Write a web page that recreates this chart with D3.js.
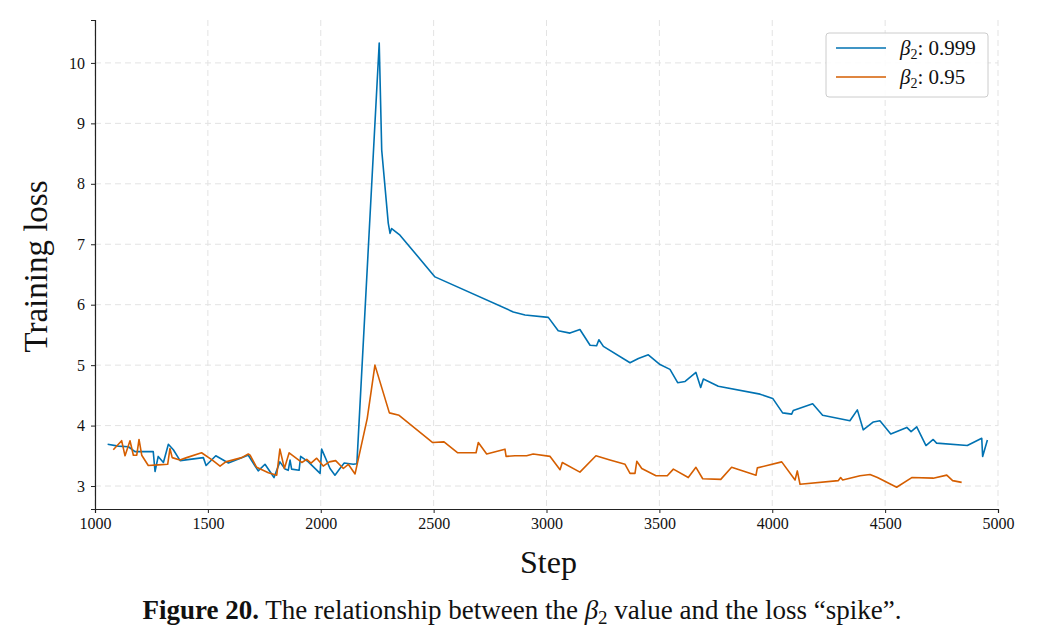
<!DOCTYPE html>
<html>
<head>
<meta charset="utf-8">
<script src="https://cdn.jsdelivr.net/npm/d3@7"></script>
<style>
  body { margin: 0; background: #fff; }
  text { font-family: "Liberation Serif", "DejaVu Serif", serif; }
</style>
</head>
<body>
<div id="chart"></div>
<script>
// beta2 = 0.999
const stepsA = [1056, 1103, 1148, 1177, 1199, 1258, 1266, 1280, 1303, 1325, 1347, 1377, 1480, 1492, 1535, 1591, 1672, 1679, 1723, 1753, 1793, 1819, 1842, 1856, 1864, 1871, 1904, 1911, 1945, 1997, 2004, 2041, 2063, 2085, 2104, 2144, 2160, 2259, 2270, 2299, 2307, 2314, 2351, 2506, 2853, 2905, 3008, 3052, 3104, 3148, 3193, 3222, 3232, 3252, 3370, 3407, 3451, 3503, 3547, 3581, 3614, 3662, 3683, 3695, 3761, 3946, 4002, 4046, 4086, 4093, 4179, 4223, 4344, 4377, 4403, 4448, 4477, 4525, 4596, 4615, 4640, 4681, 4713, 4728, 4864, 4928, 4932, 4953];
const lossA = [3.69, 3.66, 3.65, 3.57, 3.57, 3.57, 3.24, 3.49, 3.39, 3.69, 3.60, 3.42, 3.47, 3.34, 3.50, 3.38, 3.50, 3.51, 3.25, 3.36, 3.14, 3.40, 3.28, 3.26, 3.43, 3.28, 3.26, 3.49, 3.40, 3.21, 3.61, 3.29, 3.18, 3.29, 3.38, 3.36, 3.37, 10.33, 8.56, 7.35, 7.18, 7.26, 7.15, 6.46, 5.88, 5.83, 5.79, 5.57, 5.53, 5.59, 5.33, 5.32, 5.42, 5.31, 5.04, 5.11, 5.17, 5.01, 4.93, 4.71, 4.73, 4.88, 4.63, 4.77, 4.65, 4.52, 4.45, 4.21, 4.19, 4.25, 4.36, 4.17, 4.08, 4.26, 3.93, 4.06, 4.08, 3.86, 3.97, 3.90, 3.98, 3.67, 3.77, 3.71, 3.67, 3.79, 3.49, 3.76];

// beta2 = 0.95
const stepsB = [1081, 1118, 1133, 1155, 1170, 1185, 1195, 1207, 1236, 1280, 1322, 1332, 1342, 1376, 1406, 1472, 1520, 1554, 1579, 1650, 1679, 1687, 1716, 1768, 1805, 1819, 1839, 1860, 1916, 1938, 1957, 1982, 2011, 2038, 2066, 2100, 2122, 2152, 2206, 2240, 2304, 2347, 2496, 2546, 2607, 2688, 2698, 2735, 2816, 2821, 2860, 2912, 2941, 3016, 3060, 3070, 3148, 3219, 3281, 3348, 3370, 3392, 3400, 3422, 3485, 3535, 3562, 3628, 3662, 3692, 3772, 3820, 3928, 3934, 4042, 4101, 4111, 4123, 4293, 4303, 4312, 4389, 4433, 4466, 4551, 4618, 4713, 4773, 4799, 4839];
const lossB = [3.60, 3.75, 3.50, 3.75, 3.51, 3.51, 3.77, 3.51, 3.34, 3.35, 3.36, 3.62, 3.47, 3.43, 3.47, 3.55, 3.43, 3.33, 3.40, 3.47, 3.53, 3.51, 3.31, 3.22, 3.18, 3.61, 3.29, 3.55, 3.39, 3.44, 3.38, 3.46, 3.33, 3.40, 3.42, 3.29, 3.36, 3.20, 4.12, 5.00, 4.21, 4.17, 3.72, 3.73, 3.55, 3.55, 3.72, 3.53, 3.61, 3.49, 3.50, 3.50, 3.53, 3.49, 3.27, 3.39, 3.23, 3.50, 3.43, 3.36, 3.21, 3.21, 3.41, 3.29, 3.17, 3.17, 3.28, 3.14, 3.31, 3.12, 3.11, 3.31, 3.18, 3.30, 3.40, 3.10, 3.25, 3.03, 3.09, 3.14, 3.10, 3.17, 3.19, 3.14, 2.98, 3.14, 3.13, 3.18, 3.09, 3.06];

const xTicks = [1000, 1500, 2000, 2500, 3000, 3500, 4000, 4500, 5000];
const yTicks = [3, 4, 5, 6, 7, 8, 9, 10];
const seriesNames = ['0.999', '0.95'];

const W = 1037, H = 644;
const margin = { top: 20, right: 39, bottom: 135, left: 95 };
const width = W - margin.left - margin.right;
const height = H - margin.top - margin.bottom;

const colors = ['#0072b2', '#d55e00'];

const svg = d3.select('#chart').append('svg')
  .attr('width', W).attr('height', H);

const x = d3.scaleLinear().domain([1000, 5000]).range([0, width]);
const y = d3.scaleLinear().domain([2.62, 10.71]).range([height, 0]);

const g = svg.append('g').attr('transform', `translate(${margin.left},${margin.top})`);

// grid
g.append('g').selectAll('line').data(xTicks).enter().append('line')
  .attr('x1', d => x(d)).attr('x2', d => x(d)).attr('y1', 0).attr('y2', height)
  .attr('stroke', '#e3e3e3').attr('stroke-dasharray', '6,4').attr('stroke-width', 1);
g.append('g').selectAll('line').data(yTicks).enter().append('line')
  .attr('x1', 0).attr('x2', width).attr('y1', d => y(d)).attr('y2', d => y(d))
  .attr('stroke', '#e3e3e3').attr('stroke-dasharray', '6,4').attr('stroke-width', 1);

// axes
const xAxis = g.append('g').attr('transform', `translate(0,${height})`)
  .call(d3.axisBottom(x).tickValues(xTicks).tickSize(4).tickPadding(5).tickFormat(d3.format('d')));
const yAxis = g.append('g')
  .call(d3.axisLeft(y).tickValues(yTicks).tickSize(4).tickPadding(6));
[xAxis, yAxis].forEach(a => {
  a.select('.domain').attr('stroke', '#222').attr('stroke-width', 1.2);
  a.selectAll('.tick line').attr('stroke', '#222');
  a.selectAll('.tick text').style('font-size', '16px').attr('fill', '#111')
    .style('font-family', '"Liberation Serif", serif');
});

// lines
const line = d3.line().x(d => x(d[0])).y(d => y(d[1]));
const dataA = stepsA.map((s, i) => [s, lossA[i]]);
const dataB = stepsB.map((s, i) => [s, lossB[i]]);
[dataA, dataB].forEach((d, i) => {
  g.append('path').datum(d).attr('d', line)
    .attr('fill', 'none').attr('stroke', colors[i]).attr('stroke-width', 1.6)
    .attr('stroke-linejoin', 'round');
});

// legend
const lg = svg.append('g').attr('transform', 'translate(826,33)');
lg.append('rect').attr('width', 162).attr('height', 64).attr('rx', 3)
  .attr('fill', 'white').attr('fill-opacity', 0.85).attr('stroke', '#ccc');
seriesNames.forEach((n, i) => {
  const yy = 15 + i * 29;
  lg.append('line').attr('x1', 10).attr('x2', 60).attr('y1', yy).attr('y2', yy)
    .attr('stroke', colors[i]).attr('stroke-width', 1.6);
  const t = lg.append('text').attr('x', 74).attr('y', yy + 7).style('font-size', '21px').attr('fill', '#111');
  t.append('tspan').text('β').style('font-style', 'italic');
  t.append('tspan').text('2').style('font-size', '14px').attr('dy', 4);
  t.append('tspan').text(': ' + n).attr('dy', -4);
});

// axis labels
svg.append('text').attr('x', margin.left + width / 2 + 2).attr('y', 573)
  .attr('text-anchor', 'middle').style('font-size', '32px').attr('fill', '#111').text('Step');
svg.append('text').attr('transform', `translate(47,${margin.top + height / 2 + 2}) rotate(-90)`)
  .attr('text-anchor', 'middle').style('font-size', '33px').attr('fill', '#111').text('Training loss');

// caption
const cap = svg.append('text').attr('x', 522).attr('y', 619).attr('text-anchor', 'middle')
  .style('font-size', '27px').attr('fill', '#111');
cap.append('tspan').text('Figure 20.').style('font-weight', 'bold');
cap.append('tspan').text(' The relationship between the ');
cap.append('tspan').text('β').style('font-style', 'italic');
cap.append('tspan').text('2').style('font-size', '19px').attr('dy', 5);
cap.append('tspan').text(' value and the loss “spike”.').attr('dy', -5);
</script>
</body>
</html>
